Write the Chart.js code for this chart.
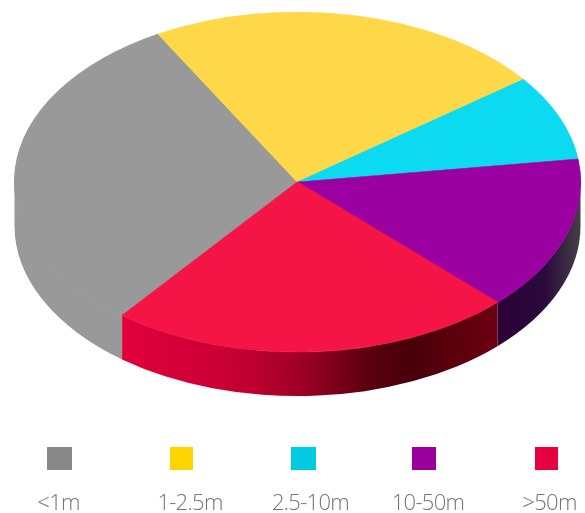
<!DOCTYPE html>
<html>
<head>
<meta charset="utf-8">
<style>html,body{margin:0;padding:0;background:#fff}canvas{display:block}</style>
<script src="https://cdn.jsdelivr.net/npm/chart.js@4"></script>
</head>
<body>
<canvas id="pie" width="585" height="513"></canvas>
<script>
// Share of the total per size band
const categories = ['<1m', '1-2.5m', '2.5-10m', '10-50m', '>50m'];
const shares = [31.17, 22.89, 8.14, 14.67, 23.13];
const faceColors = ['#999999', '#FFD84A', '#0CDAF0', '#9B00A0', '#F51446'];
const keyColors = ['#888888', '#FFD400', '#00CBE0', '#9C009C', '#E60042'];
const firstSliceAngle = 218.3;

// Tilted-disc geometry
const disc = { cx: 297.5, cy: 182, rx: 283, ry: 170, depth: 44 };

// Horizontal shading of the visible rim, per slice: [x, colour]
const rimShades = [
  [[14, '#999999'], [122, '#999999']],
  null,
  null,
  [[495, '#2c0038'], [545, '#2a0a3c'], [581, '#464046']],
  [[122, '#e2003c'], [230, '#c80034'], [300, '#a00026'], [365, '#5c0010'], [410, '#480008'], [495, '#6c0012']]
];

// Key positions: swatch left edge / width, label centre
const keySwatches = [[47, 25], [170, 23], [291, 25], [412, 24], [535, 23]];
const keyLabelX = [58.5, 190, 310.5, 428, 549.5];

// Only the part of a slice facing the viewer (sine of the angle positive) shows a rim
function frontSpans(start, end) {
  const spans = [];
  for (const k of [-2, 0, 2]) {
    const a = Math.max(start, k * Math.PI);
    const b = Math.min(end, (k + 1) * Math.PI);
    if (b > a) spans.push([a, b]);
  }
  return spans;
}

const tiltPlugin = {
  id: 'tilt',
  beforeDatasetsDraw(chart) {
    const ctx = chart.ctx;
    const arcs = chart.getDatasetMeta(0).data;
    arcs.forEach((arc, i) => {
      const stops = rimShades[i];
      if (!stops) return;
      const from = stops[0][0], to = stops[stops.length - 1][0];
      const grad = ctx.createLinearGradient(from, 0, to, 0);
      stops.forEach(s => grad.addColorStop((s[0] - from) / (to - from), s[1]));
      ctx.save();
      ctx.fillStyle = grad;
      frontSpans(arc.startAngle, arc.endAngle).forEach(([a, b]) => {
        ctx.beginPath();
        ctx.ellipse(disc.cx, disc.cy, disc.rx, disc.ry, 0, a, b);
        ctx.ellipse(disc.cx, disc.cy + disc.depth, disc.rx, disc.ry, 0, b, a, true);
        ctx.closePath();
        ctx.fill();
      });
      ctx.restore();
    });
  },
  beforeDatasetDraw(chart) {
    const ctx = chart.ctx;
    const arc = chart.getDatasetMeta(0).data[0];
    ctx.save();
    ctx.translate(disc.cx, disc.cy);
    ctx.scale(disc.rx / arc.outerRadius, disc.ry / arc.outerRadius);
    ctx.translate(-arc.x, -arc.y);
  },
  afterDatasetDraw(chart) {
    chart.ctx.restore();
  },
  afterDraw(chart) {
    const ctx = chart.ctx;
    ctx.save();
    chart.data.labels.forEach((label, i) => {
      ctx.fillStyle = keyColors[i];
      ctx.fillRect(keySwatches[i][0], 447, keySwatches[i][1], 23);
      ctx.fillStyle = '#747474';
      ctx.font = '300 22px "Open Sans"';
      ctx.letterSpacing = '-0.7px';
      ctx.textAlign = 'center';
      ctx.textBaseline = 'alphabetic';
      ctx.fillText(label, keyLabelX[i], 510);
    });
    ctx.restore();
  }
};

new Chart(document.getElementById('pie'), {
  type: 'pie',
  data: {
    labels: categories,
    datasets: [{
      data: shares,
      backgroundColor: faceColors,
      borderColor: faceColors,
      borderWidth: 1,
      clip: false
    }]
  },
  options: {
    responsive: false,
    animation: false,
    rotation: firstSliceAngle,
    plugins: { legend: { display: false }, tooltip: { enabled: false } }
  },
  plugins: [tiltPlugin]
});
</script>
</body>
</html>
